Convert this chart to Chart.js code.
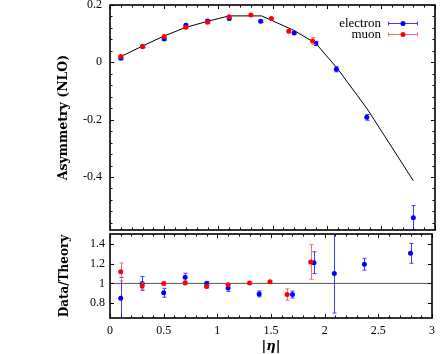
<!DOCTYPE html>
<html>
<head>
<meta charset="utf-8">
<script src="https://cdn.jsdelivr.net/npm/chart.js@4.4.1/dist/chart.umd.min.js"></script>
<style>
  html, body { margin: 0; padding: 0; background: #fff; }
  #wrap { position: relative; width: 441px; height: 354px; }
  canvas { position: absolute; left: 0; }
  #top { top: 0; }
  #bottom { top: 230px; }
</style>
</head>
<body>
<div id="wrap">
  <canvas id="top" width="441" height="234"></canvas>
  <canvas id="bottom" width="441" height="124"></canvas>
</div>
<script>
// measured points
const electronEta = [0.1, 0.3, 0.5, 0.7, 0.9, 1.1, 1.39, 1.7, 1.9, 2.09, 2.37, 2.8];
const electronAsym = [0.014, 0.055, 0.081, 0.129, 0.144, 0.1525, 0.143, 0.102, 0.066, -0.024, -0.192, -0.542];
const electronAsymErr = [0.004, 0.004, 0.004, 0.005, 0.004, 0.005, 0.004, 0.004, 0.007, 0.009, 0.01, 0.042];
const electronRatio = [0.85, 1.0, 0.905, 1.063, 1.0, 0.954, 0.894, 0.887, 1.21, 1.10, 1.194, 1.304];
const electronRatioErr = [0.21, 0.07, 0.045, 0.04, 0.02, 0.035, 0.03, 0.035, 0.11, 0.40, 0.06, 0.10];

const muonEta = [0.1, 0.3, 0.5, 0.7, 0.9, 1.1, 1.3, 1.49, 1.65, 1.87];
const muonAsym = [0.020, 0.055, 0.090, 0.122, 0.140, 0.159, 0.165, 0.1525, 0.108, 0.074];
const muonAsymErr = [0.003, 0.003, 0.003, 0.003, 0.003, 0.003, 0.003, 0.003, 0.005, 0.012];
const muonRatio = [1.117, 0.975, 1.0, 1.005, 0.97, 0.987, 1.004, 1.017, 0.887, 1.217];
const muonRatioErr = [0.09, 0.03, 0.015, 0.01, 0.015, 0.01, 0.01, 0.01, 0.058, 0.175];

// NLO prediction
const theoryEta = [0.1, 0.3, 0.5, 0.7, 0.9, 1.1, 1.4, 1.7, 1.9, 2.1, 2.375, 2.8];
const theoryAsym = [0.02, 0.057, 0.092, 0.122, 0.143, 0.162, 0.162, 0.111, 0.066, -0.022, -0.163, -0.413];

const etaRange = [0, 3];
const xTicks = [0, 0.5, 1, 1.5, 2, 2.5, 3];
const asymTicks = [-0.4, -0.2, 0, 0.2];
const ratioTicks = [0.8, 1, 1.2, 1.4];

Chart.defaults.font.family = '"Liberation Serif", serif';
Chart.defaults.font.size = 12;
Chart.defaults.color = '#000';

const pts = (xs, ys) => xs.map((x, i) => ({x: x, y: ys[i]}));

// vertical error bars, drawn just under each dataset's markers
const errorBars = {
    id: 'errorBars',
    beforeDatasetDraw(chart, args) {
        const ds = chart.data.datasets[args.index];
        if (!ds.errors) return;
        const {ctx, chartArea: a, scales} = chart;
        ctx.save();
        ctx.beginPath();
        ctx.rect(a.left, a.top, a.width, a.height);
        ctx.clip();
        ctx.strokeStyle = ds.errorColor;
        ctx.lineWidth = 1;
        ds.data.forEach((p, i) => {
            const x = Math.round(scales.x.getPixelForValue(p.x)) + 0.5;
            const y1 = scales.y.getPixelForValue(p.y - ds.errors[i]);
            const y2 = scales.y.getPixelForValue(p.y + ds.errors[i]);
            ctx.beginPath();
            ctx.moveTo(x, y1); ctx.lineTo(x, y2);
            ctx.moveTo(x - 2, y1); ctx.lineTo(x + 2, y1);
            ctx.moveTo(x - 2, y2); ctx.lineTo(x + 2, y2);
            ctx.stroke();
        });
        ctx.restore();
    }
};

// gnuplot-like box with inward ticks on all four sides
const frame = {
    id: 'frame',
    afterDraw(chart, args, opts) {
        const {ctx, chartArea: a, scales} = chart;
        const xs = scales.x, ys = scales.y;
        const steps = (min, max, step) => {
            const out = [];
            for (let k = Math.ceil(min / step - 1e-6); k <= Math.floor(max / step + 1e-6); k++) out.push(k * step);
            return out;
        };
        ctx.save();
        ctx.strokeStyle = '#000';
        ctx.lineWidth = 1;
        ctx.beginPath();
        const xTick = (v, len) => {
            const x = Math.round(xs.getPixelForValue(v)) + 0.5;
            ctx.moveTo(x, a.bottom); ctx.lineTo(x, a.bottom - len);
            ctx.moveTo(x, a.top); ctx.lineTo(x, a.top + len);
        };
        const yTick = (v, len) => {
            const y = Math.round(ys.getPixelForValue(v)) + 0.5;
            ctx.moveTo(a.left, y); ctx.lineTo(a.left + len, y);
            ctx.moveTo(a.right, y); ctx.lineTo(a.right - len, y);
        };
        steps(xs.min, xs.max, opts.xMinor).forEach(v => xTick(v, 2.5));
        opts.xMajor.forEach(v => xTick(v, 4));
        if (opts.yMinor) steps(ys.min, ys.max, opts.yMinor).forEach(v => yTick(v, 2.5));
        opts.yMajor.forEach(v => yTick(v, 4));
        ctx.stroke();
        ctx.lineWidth = 1.6;
        ctx.strokeRect(a.left, a.top, a.width, a.height);
        ctx.restore();
    }
};

// legend: label on the left, error-bar sample on the right
const legendBox = {
    id: 'legendBox',
    afterDraw(chart) {
        const {ctx, chartArea: a} = chart;
        const items = chart.data.datasets.filter(d => d.errors);
        ctx.save();
        ctx.font = '13px "Liberation Serif", serif';
        ctx.textAlign = 'right';
        ctx.textBaseline = 'middle';
        items.forEach((d, i) => {
            const y = a.top + 18.5 + i * 11;
            const x0 = a.right - 47, x1 = a.right - 17;
            ctx.fillStyle = '#000';
            ctx.fillText(d.label, a.right - 54, y);
            ctx.strokeStyle = d.errorColor;
            ctx.lineWidth = 1;
            ctx.beginPath();
            ctx.moveTo(x0, y); ctx.lineTo(x1, y);
            ctx.moveTo(x0 + 0.5, y - 2); ctx.lineTo(x0 + 0.5, y + 2);
            ctx.moveTo(x1 - 0.5, y - 2); ctx.lineTo(x1 - 0.5, y + 2);
            ctx.stroke();
            ctx.fillStyle = d.pointBackgroundColor;
            ctx.beginPath();
            ctx.arc((x0 + x1) / 2, y, 2.5, 0, Math.PI * 2);
            ctx.fill();
        });
        ctx.restore();
    }
};

function fixWidth(scale) {
    scale.width = 110;
    scale.paddingTop = 0;
    scale.paddingBottom = 0;
}

function setTicks(values) {
    return function(scale) {
        scale.ticks = values.map(v => ({value: v}));
    };
}

const plainLabel = v => String(v);

const markerSet = (label, color, errColor, data, errors, order) => ({
    label: label,
    data: data,
    errors: errors,
    errorColor: errColor,
    backgroundColor: color,
    pointBackgroundColor: color,
    borderColor: color,
    pointRadius: 2.5,
    pointBorderWidth: 0,
    showLine: false,
    order: order
});

new Chart(document.getElementById('top'), {
    type: 'scatter',
    data: {
        datasets: [
            markerSet('electron', '#0000ff', '#3c3cff', pts(electronEta, electronAsym), electronAsymErr, 2),
            markerSet('muon', '#ff0000', '#ff6e6e', pts(muonEta, muonAsym), muonAsymErr, 1),
            {
                label: 'NLO',
                data: pts(theoryEta, theoryAsym),
                showLine: true,
                borderColor: '#000',
                borderWidth: 1,
                pointRadius: 0,
                order: 3
            }
        ]
    },
    options: {
        responsive: false,
        animation: false,
        events: [],
        layout: { padding: { top: 5, right: 6, bottom: 2, left: 0 } },
        plugins: {
            legend: { display: false },
            tooltip: { enabled: false },
            frame: { xMajor: xTicks, yMajor: asymTicks, xMinor: 0.1, yMinor: 0.04 }
        },
        scales: {
            x: {
                type: 'linear',
                min: etaRange[0],
                max: etaRange[1],
                ticks: { display: false },
                grid: { display: false, drawTicks: false },
                border: { display: false }
            },
            y: {
                min: -0.585,
                max: 0.2,
                afterBuildTicks: setTicks(asymTicks),
                afterFit: fixWidth,
                ticks: { padding: 8, font: { size: 12 }, callback: plainLabel },
                grid: { display: false, drawTicks: false },
                border: { display: false },
                title: {
                    display: true,
                    text: 'Asymmetry (NLO)',
                    font: { family: '"DejaVu Serif", serif', size: 12.5, weight: 'bold' },
                    padding: { top: 56, bottom: 0 }
                }
            }
        }
    },
    plugins: [errorBars, frame, legendBox]
});

new Chart(document.getElementById('bottom'), {
    type: 'scatter',
    data: {
        datasets: [
            markerSet('electron', '#0000ff', '#3c3cff', pts(electronEta, electronRatio), electronRatioErr, 2),
            markerSet('muon', '#ff0000', '#ff6e6e', pts(muonEta, muonRatio), muonRatioErr, 1),
            {
                label: 'unity',
                data: pts(etaRange, [1, 1]),
                showLine: true,
                borderColor: '#555',
                borderWidth: 1,
                pointRadius: 0,
                order: 3
            }
        ]
    },
    options: {
        responsive: false,
        animation: false,
        events: [],
        layout: { padding: { top: 3, right: 6, bottom: 0, left: 0 } },
        plugins: {
            legend: { display: false },
            tooltip: { enabled: false },
            frame: { xMajor: xTicks, yMajor: ratioTicks, xMinor: 0.1, yMinor: null }
        },
        scales: {
            x: {
                type: 'linear',
                min: etaRange[0],
                max: etaRange[1],
                afterBuildTicks: setTicks(xTicks),
                afterFit: function(scale) { scale.height = 36; },
                ticks: { padding: 6, font: { size: 12 }, callback: plainLabel },
                grid: { display: false, drawTicks: false },
                border: { display: false },
                title: {
                    display: true,
                    text: '|η|',
                    font: { family: '"DejaVu Serif", serif', size: 13, weight: 'bold', style: 'italic' },
                    padding: { top: 0, bottom: 0 }
                }
            },
            y: {
                min: 0.65,
                max: 1.5,
                afterBuildTicks: setTicks(ratioTicks),
                afterFit: fixWidth,
                ticks: { padding: 5, font: { size: 12 }, callback: plainLabel },
                grid: { display: false, drawTicks: false },
                border: { display: false },
                title: {
                    display: true,
                    text: 'Data/Theory',
                    font: { family: '"DejaVu Serif", serif', size: 12, weight: 'bold' },
                    padding: { top: 58, bottom: 0 }
                }
            }
        }
    },
    plugins: [errorBars, frame]
});
</script>
</body>
</html>
